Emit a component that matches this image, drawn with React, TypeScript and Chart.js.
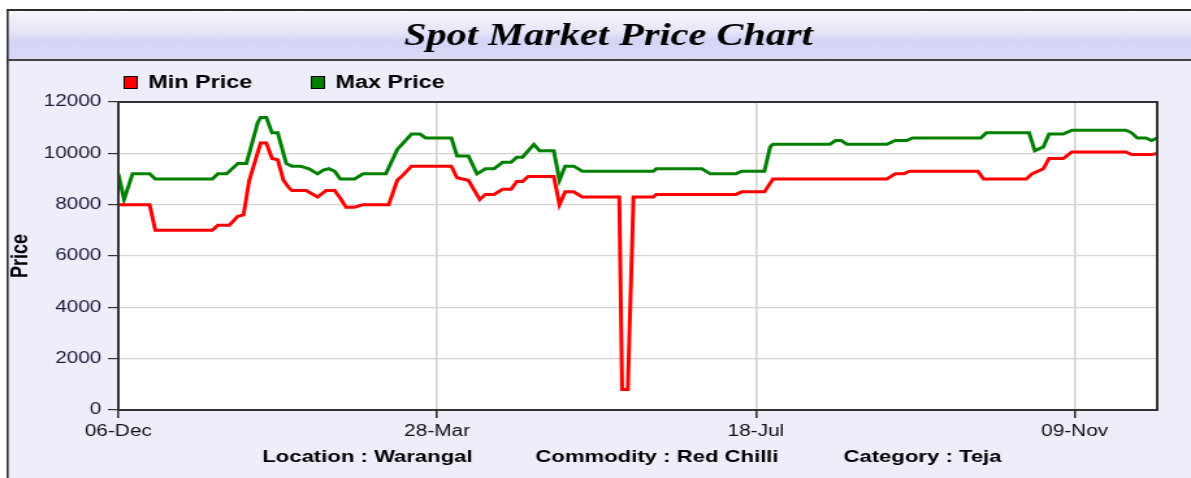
import React, { useEffect, useRef } from "react";
import { Chart, registerables } from "chart.js";

Chart.register(...registerables);

// The original image is a chart rendered narrower and stretched horizontally.
const CANVAS_W = 916;
const CANVAS_H = 478;
const DISPLAY_W = 1191;

const chartTitle = "Spot Market Price Chart";
const yAxisTitle = "Price";
const seriesNames = ["Min Price", "Max Price"];
const footerItems = ["Location : Warangal", "Commodity : Red Chilli", "Category : Teja"];

// x axis: days since 06-Dec
const tickDays = [0, 112, 224, 336];
const tickLabels = ["06-Dec", "28-Mar", "18-Jul", "09-Nov"];
const yTicks = [0, 2000, 4000, 6000, 8000, 10000, 12000];

const minDays = [0, 11, 13, 33, 35, 39, 42, 44, 46, 50, 52, 54, 56, 58, 60, 61, 66, 70, 73, 76, 78, 80, 83, 86, 95, 98, 100, 103, 117, 119, 123, 127, 129, 132, 135, 138, 140, 142, 144, 153, 155, 157, 160, 163, 176, 177, 179, 181, 188, 189, 217, 219, 227, 230, 270, 273, 276, 278, 302, 304, 319, 321, 325, 327, 332, 335, 354, 356, 363, 365];
const minPrices = [8000, 8000, 7000, 7000, 7200, 7200, 7550, 7600, 8950, 10400, 10400, 9800, 9750, 8950, 8650, 8550, 8550, 8300, 8550, 8550, 8250, 7900, 7900, 8000, 8000, 8950, 9150, 9500, 9500, 9050, 8950, 8200, 8400, 8400, 8600, 8600, 8900, 8900, 9100, 9100, 8000, 8500, 8500, 8300, 8300, 800, 800, 8300, 8300, 8400, 8400, 8500, 8500, 9000, 9000, 9200, 9200, 9300, 9300, 9000, 9000, 9200, 9400, 9800, 9800, 10050, 10050, 9950, 9950, 10000];

const maxDays = [0, 2, 5, 11, 13, 33, 35, 38, 42, 45, 49, 50, 52, 54, 56, 59, 61, 64, 67, 70, 72, 74, 76, 78, 83, 86, 94, 98, 103, 106, 108, 117, 119, 123, 126, 129, 132, 135, 138, 140, 142, 146, 148, 153, 155, 157, 160, 163, 188, 189, 205, 208, 217, 219, 227, 229, 230, 250, 252, 254, 256, 270, 273, 277, 279, 303, 305, 320, 322, 325, 327, 332, 335, 354, 356, 358, 361, 363, 365];
const maxPrices = [9200, 8200, 9200, 9200, 9000, 9000, 9200, 9200, 9600, 9600, 11200, 11400, 11400, 10800, 10800, 9600, 9500, 9500, 9400, 9200, 9350, 9400, 9300, 9000, 9000, 9200, 9200, 10150, 10750, 10750, 10600, 10600, 9900, 9900, 9200, 9400, 9400, 9650, 9650, 9850, 9850, 10350, 10100, 10100, 8950, 9500, 9500, 9300, 9300, 9400, 9400, 9200, 9200, 9300, 9300, 10250, 10350, 10350, 10500, 10500, 10350, 10350, 10500, 10500, 10600, 10600, 10800, 10800, 10100, 10250, 10750, 10750, 10900, 10900, 10800, 10600, 10600, 10500, 10600];

const seriesColors = ["#ff0000", "#008000"];

const decorPlugin = {
  id: "decor",
  beforeDraw(chart: any) {
    const ctx = chart.ctx;
    const W = chart.width;
    const H = chart.height;
    const ca = chart.chartArea;
    ctx.save();
    ctx.fillStyle = "#ffffff";
    ctx.fillRect(0, 0, W, H);
    // panel background
    ctx.fillStyle = "#eeeefb";
    ctx.fillRect(6, 10, W - 6, H - 10);
    // title band
    const g = ctx.createLinearGradient(0, 11, 0, 60);
    g.addColorStop(0, "#f6f6fc");
    g.addColorStop(0.45, "#e4e4f8");
    g.addColorStop(0.6, "#d4d4f6");
    g.addColorStop(1, "#dadaf8");
    ctx.fillStyle = g;
    ctx.fillRect(6, 10, W - 6, 50);
    // frame lines
    ctx.fillStyle = "#2e2e2e";
    ctx.fillRect(5, 9, 1.6, H - 9);
    ctx.fillRect(5, 9, W - 5, 2);
    ctx.fillStyle = "#444444";
    ctx.fillRect(6, 59, W - 6, 2);
    // plot background
    ctx.fillStyle = "#ffffff";
    ctx.fillRect(ca.left, ca.top, ca.right - ca.left, ca.bottom - ca.top);
    ctx.restore();
  },
  afterDraw(chart: any) {
    const ctx = chart.ctx;
    const ca = chart.chartArea;
    ctx.save();
    // plot frame
    ctx.strokeStyle = "#333333";
    ctx.lineWidth = 2;
    ctx.strokeRect(ca.left, ca.top, ca.right - ca.left, ca.bottom - ca.top);

    // title
    ctx.fillStyle = "#000000";
    ctx.font = "italic bold 31px 'Liberation Serif', 'Times New Roman', serif";
    ctx.textAlign = "center";
    ctx.textBaseline = "middle";
    ctx.fillText(chartTitle, 468, 37);

    // legend
    const legendX = [95, 239];
    ctx.font = "bold 18px 'Liberation Sans', Arial, sans-serif";
    ctx.textAlign = "left";
    seriesNames.forEach((name, i) => {
      const x = legendX[i];
      ctx.fillStyle = seriesColors[i];
      ctx.fillRect(x, 76, 11, 13);
      ctx.strokeStyle = "#000000";
      ctx.lineWidth = 1;
      ctx.strokeRect(x + 0.5, 76.5, 10, 12);
      ctx.fillStyle = "#000000";
      ctx.fillText(name, x + 19, 83);
    });

    // footer
    const footerX = [282.6, 505.3, 709.5];
    ctx.font = "bold 17px 'Liberation Sans', Arial, sans-serif";
    ctx.textAlign = "center";
    footerItems.forEach((t, i) => ctx.fillText(t, footerX[i], 457));
    ctx.restore();
  },
};

export default function App() {
  const canvasRef = useRef<HTMLCanvasElement | null>(null);

  useEffect(() => {
    const canvas = canvasRef.current;
    if (!canvas) return;
    const chart = new Chart(canvas, {
      type: "line",
      data: {
        datasets: [
          {
            label: seriesNames[0],
            data: minDays.map((d, i) => ({ x: d, y: minPrices[i] })),
            borderColor: seriesColors[0],
            backgroundColor: seriesColors[0],
            borderWidth: 3,
            pointRadius: 0,
            tension: 0,
            fill: false,
          },
          {
            label: seriesNames[1],
            data: maxDays.map((d, i) => ({ x: d, y: maxPrices[i] })),
            borderColor: seriesColors[1],
            backgroundColor: seriesColors[1],
            borderWidth: 3,
            pointRadius: 0,
            tension: 0,
            fill: false,
          },
        ],
      },
      options: {
        responsive: false,
        animation: false,
        devicePixelRatio: 1,
        layout: { padding: { top: 102, right: 26, bottom: 0, left: 0 } },
        plugins: {
          legend: { display: false },
          title: { display: false },
          tooltip: { enabled: false },
        },
        scales: {
          x: {
            type: "linear",
            min: 0,
            max: 365,
            afterBuildTicks: (scale: any) => {
              scale.ticks = tickDays.map((v) => ({ value: v }));
            },
            afterFit: (scale: any) => {
              scale.height = 68;
              scale.paddingLeft = 0;
              scale.paddingRight = 0;
            },
            ticks: {
              autoSkip: false,
              maxRotation: 0,
              padding: 4,
              color: "#111111",
              font: { family: "'Liberation Sans', Arial, sans-serif", size: 16 },
              callback: (value: any) => {
                const idx = tickDays.indexOf(Number(value));
                return idx >= 0 ? tickLabels[idx] : "";
              },
            },
            grid: {
              color: "#d4d4d4",
              lineWidth: 1.6,
              tickColor: "#333333",
              tickLength: 8,
            },
            border: { display: true, color: "#333333", width: 2 },
          },
          y: {
            type: "linear",
            min: 0,
            max: 12000,
            afterBuildTicks: (scale: any) => {
              scale.ticks = yTicks.map((v) => ({ value: v }));
            },
            afterFit: (scale: any) => {
              scale.width = 91;
              scale.paddingTop = 0;
              scale.paddingBottom = 0;
            },
            ticks: {
              padding: 5,
              color: "#1c1c38",
              font: { family: "'Liberation Sans', Arial, sans-serif", size: 16 },
              callback: (value: any) => String(value),
            },
            grid: {
              color: "#d4d4d4",
              lineWidth: 1.2,
              tickColor: "#333333",
              tickLength: 8,
            },
            border: { display: true, color: "#333333", width: 2 },
            title: {
              display: true,
              text: yAxisTitle,
              color: "#000000",
              padding: { top: 5, bottom: 0 },
              font: { family: "'Liberation Sans', Arial, sans-serif", size: 18, weight: "bold" },
            },
          },
        },
      },
      plugins: [decorPlugin],
    });
    return () => chart.destroy();
  }, []);

  return (
    <div style={{ position: "absolute", left: 0, top: 0, width: DISPLAY_W, height: CANVAS_H, overflow: "hidden" }}>
      <canvas
        ref={canvasRef}
        width={CANVAS_W}
        height={CANVAS_H}
        style={{ width: DISPLAY_W + "px", height: CANVAS_H + "px", display: "block" }}
      />
    </div>
  );
}
